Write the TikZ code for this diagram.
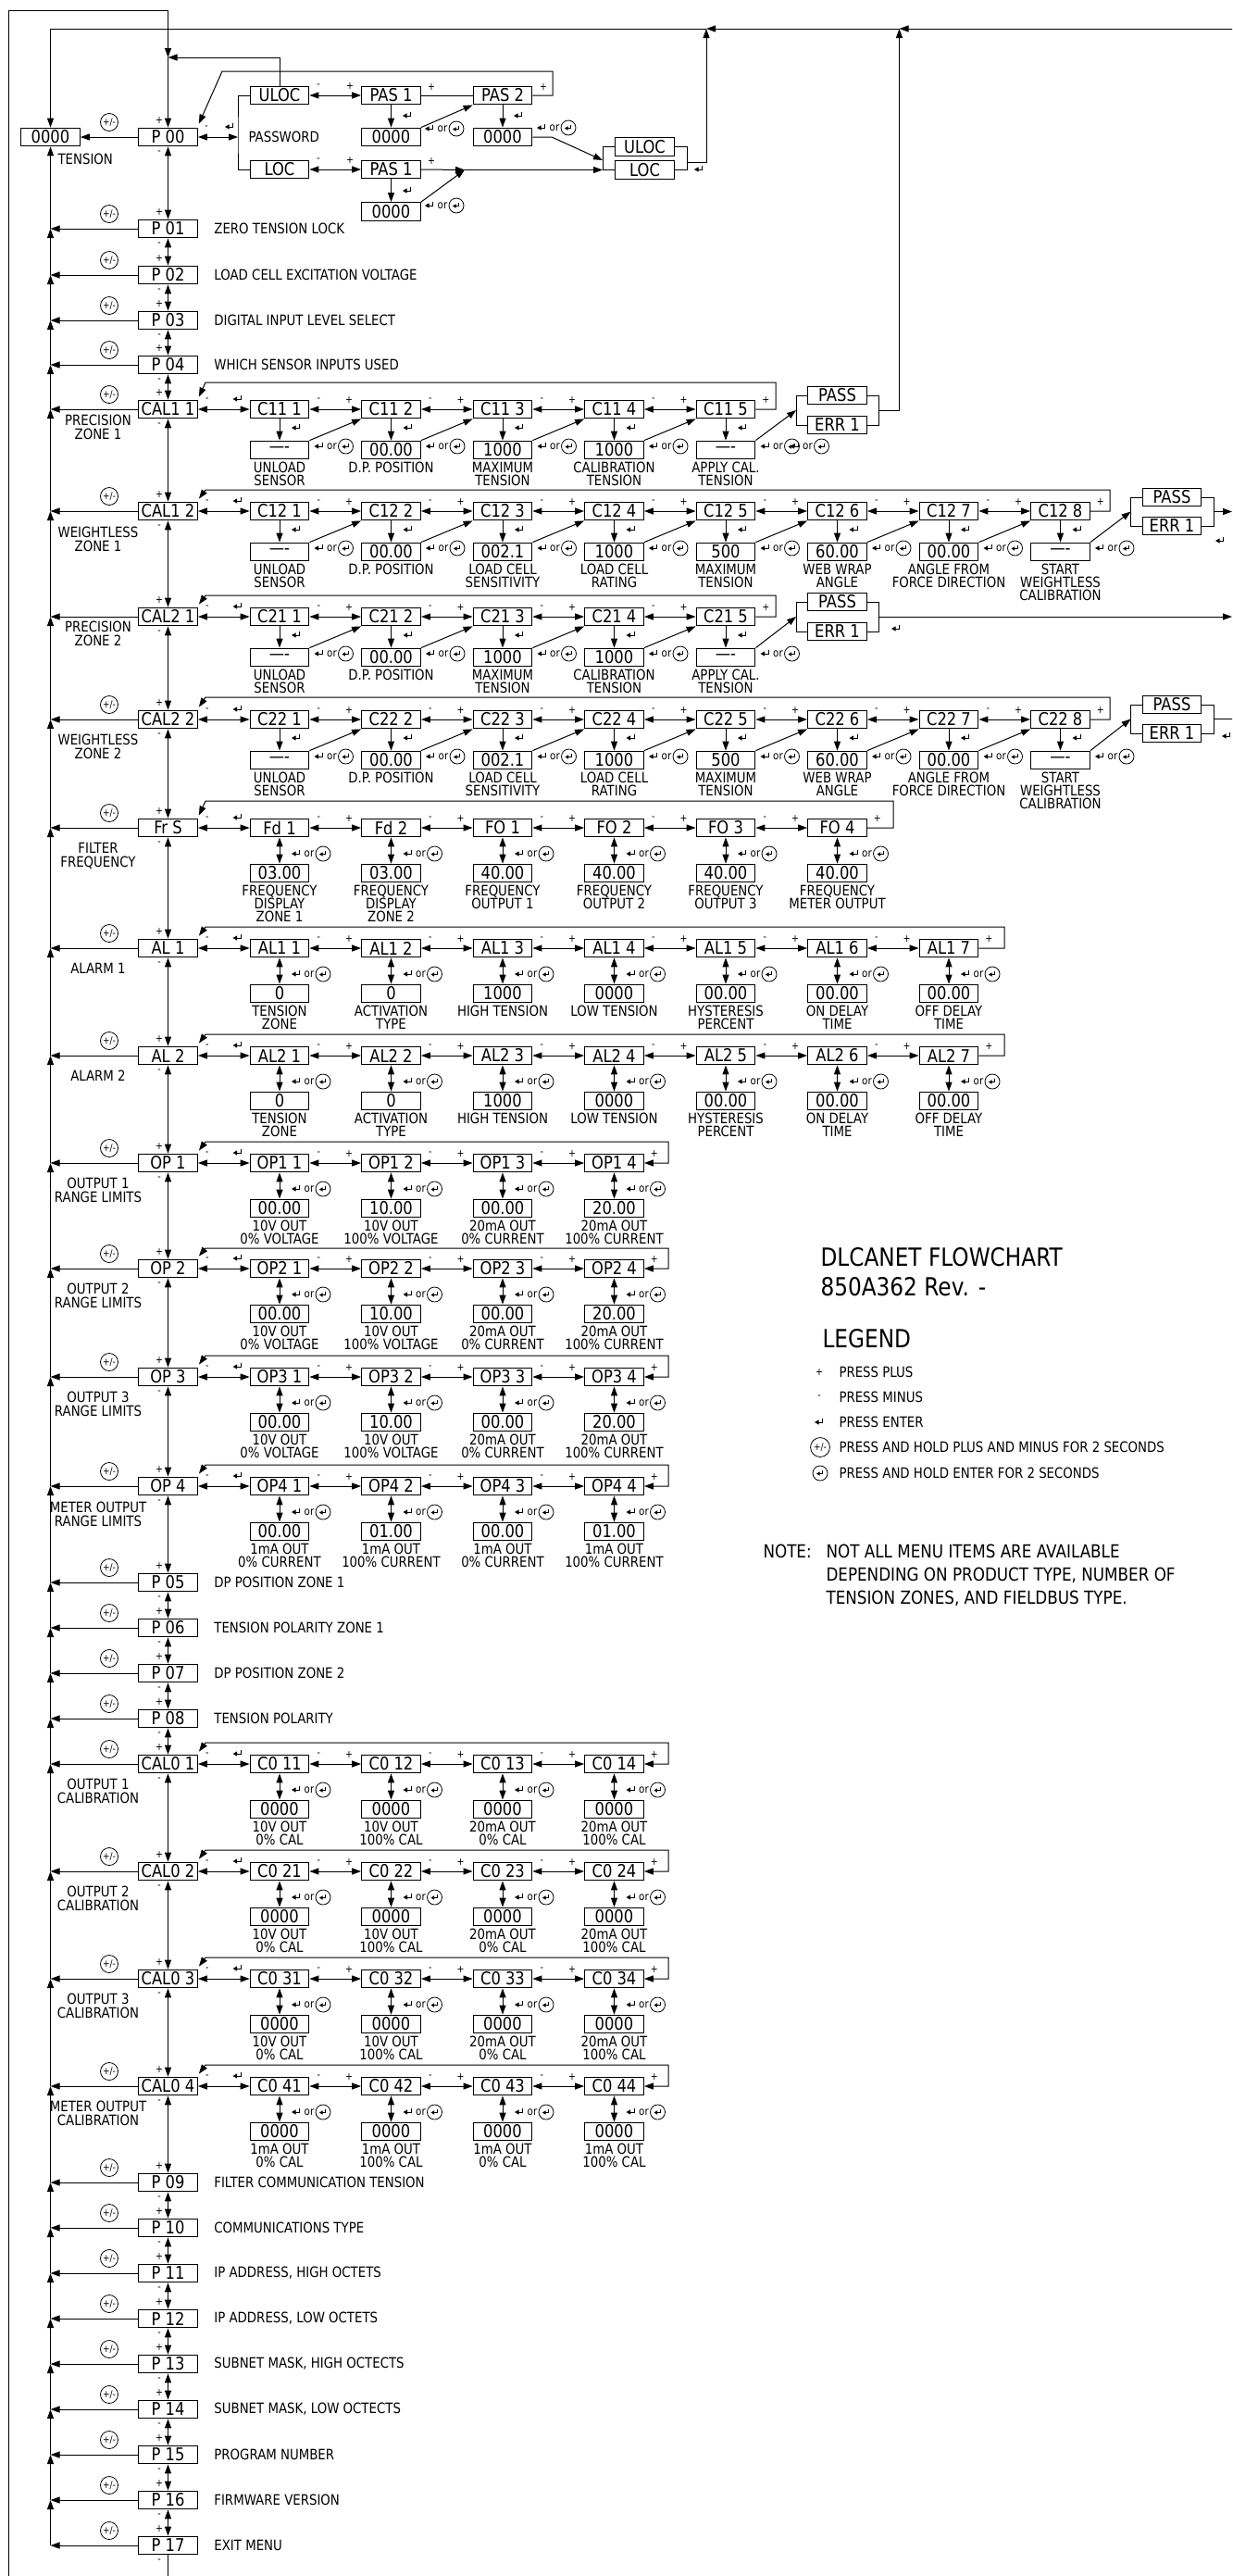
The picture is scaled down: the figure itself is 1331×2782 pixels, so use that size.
\documentclass[tikz,border=0pt]{standalone}
\usepackage{fontspec}
\setmainfont{DejaVu Sans}[FakeStretch=0.86]
\usetikzlibrary{arrows.meta,calc}
\tikzset{
  box/.style={draw, line width=1.3pt, fill=white, minimum width=63.5pt, minimum height=19.5pt, inner sep=0pt, font=\fontsize{19}{19}\selectfont},
  lbl/.style={inner sep=0pt, align=center, font=\fontsize{15.5}{13.8}\selectfont},
  lbltwo/.style={inner sep=0pt, align=center, font=\fontsize{15.5}{15.5}\selectfont},
  desc/.style={inner sep=0pt, anchor=west, font=\fontsize{15.5}{15.5}\selectfont},
  pmk/.style={inner sep=0pt, font=\fontsize{11}{11}\selectfont},
  ar/.style={-{Triangle[length=10pt,width=7pt]}},
  dar/.style={{Triangle[length=10pt,width=7pt]}-{Triangle[length=10pt,width=7pt]}},
  entr/.pic={\draw[line width=1pt] (3.5,-4.5) -- (3.5,0) -- (-1,0); \fill (-5,0) -- (-0.5,-2.6) -- (-0.5,2.6) -- cycle;},
  centr/.pic={\draw[line width=0.8pt] (0,0) circle (8pt); \draw[line width=0.9pt] (2.6,-3.5) -- (2.6,0.5) -- (-0.8,0.5); \fill (-4,0.5) -- (-0.5,-1.7) -- (-0.5,2.7) -- cycle;},
  pmc/.pic={\draw[line width=0.8pt] (0,0) circle (9.5pt); \node[inner sep=0pt, font=\fontsize{10.5}{10.5}\selectfont] (pmtxt) {+/-};},
}
\newcommand{\orent}[2]{%
  \pic at (#1,#2) {entr};
  \node[inner sep=0pt,font=\fontsize{12}{12}\selectfont] (ortxt) at (#1+14,#2) {or};
  \pic at (#1+29,#2) {centr};
}
% CAL style row: #1 name, #2 main index, #3 row y, #4 items
\newcommand{\calrow}[4]{%
  \foreach \ilab/\ival/\isub [count=\i] in {#4} {
    \pgfmathsetmacro{\cx}{302+120.5*(\i-1)}
    \node[box] (#1l\i) at (\cx,#3) {\ilab};
    \node[box] (#1v\i) at (\cx,#3+44) {\ival};
    \draw[ar] (#1l\i.south) -- (#1v\i.north);
    \pic at (\cx+18,#3+20) {entr};
    \node[lbl,anchor=north] (#1s\i) at (\cx,#3+56.7) {\isub};
    \orent{\cx+42.5}{#3+40}
    \ifnum\i>1
      \pgfmathtruncatemacro{\j}{\i-1}
      \draw[ar] (#1v\j.north east) -- (#1l\i.south west);
      \draw[dar] (#1l\j.east) -- (#1l\i.west);
      \node[pmk] (#1mi\i) at ($(#1l\j.east)+(10,-10)$) {-};
      \node[pmk] (#1pl\i) at ($(#1l\i.west)+(-13,-10)$) {+};
    \fi
  }
  \draw[dar] (m#2.east) -- (#1l1.west);
  \node[pmk] (#1m0) at ($(m#2.east)+(10,-10)$) {-};
  \pic at ($(#1l1.west)+(-13,-11)$) {entr};
}
% double arrow row
\newcommand{\dblrow}[4]{%
  \foreach \ilab/\ival/\isub [count=\i] in {#4} {
    \pgfmathsetmacro{\cx}{302+120.5*(\i-1)}
    \node[box] (#1l\i) at (\cx,#3) {\ilab};
    \node[box] (#1v\i) at (\cx,#3+49) {\ival};
    \draw[dar] (#1l\i.south) -- (#1v\i.north);
    \orent{\cx+18}{#3+28}
    \node[lbl,anchor=north] (#1s\i) at (\cx,#3+61.7) {\isub};
    \ifnum\i>1
      \pgfmathtruncatemacro{\j}{\i-1}
      \draw[dar] (#1l\j.east) -- (#1l\i.west);
      \node[pmk] (#1mi\i) at ($(#1l\j.east)+(10,-10)$) {-};
      \node[pmk] (#1pl\i) at ($(#1l\i.west)+(-13,-10)$) {+};
    \fi
  }
  \draw[dar] (m#2.east) -- (#1l1.west);
  \node[pmk] (#1m0) at ($(m#2.east)+(10,-10)$) {-};
  \pic at ($(#1l1.west)+(-13,-11)$) {entr};
}
% loop back: #1 name #2 last index #3 main idx #4 row y #5 top y #6 right x #7 style
\newcommand{\loopback}[7]{%
  \draw[#7] (#1l#2.east) -- (#6,#4) -- (#6,#5) -- (222,#5) -- ($(m#3.north east)+(1,-3)$);
  \node[pmk] (#1lp) at ($(#1l#2.east)+(11,-10)$) {+};
}
% pass group: #1 name #2 cx #3 ypass #4 yerr
\newcommand{\passgrp}[4]{%
  \node[box] (#1p) at (#2,#3) {PASS};
  \node[box] (#1e) at (#2,#4) {ERR 1};
  \draw (#1p.west) -- ++(-12,0) |- (#1e.west);
  \draw (#1p.east) -- ++(13,0) |- (#1e.east);
  \coordinate (#1L) at ($(#1p.west)!0.5!(#1e.west)+(-12,0)$);
  \coordinate (#1R) at ($(#1p.east)!0.5!(#1e.east)+(13,0)$);
}
\begin{document}
\begin{tikzpicture}[x=1pt,y=-1pt,line width=1pt]
\useasboundingbox (0,0) rectangle (1331,2782);
\clip (0,0) rectangle (1331,2782);

% ---------- main column ----------
\node[box] (ten) at (54.5,148) {0000};
\node[desc] (tenl) at (62,172) {TENSION};
\foreach \t/\y [count=\n from 0] in {P 00/148, P 01/247, P 02/297, P 03/346, P 04/394, CAL1 1/442, CAL1 2/552, CAL2 1/666, CAL2 2/777, Fr S/894, AL 1/1024, AL 2/1140, OP 1/1256, OP 2/1370, OP 3/1487, OP 4/1605, P 05/1709, P 06/1758, P 07/1807, P 08/1856, CAL0 1/1905, CAL0 2/2021, CAL0 3/2137, CAL0 4/2253, P 09/2357, P 10/2406, P 11/2455, P 12/2504, P 13/2553, P 14/2602, P 15/2651, P 16/2700, P 17/2749} {
  \node[box] (m\n) at (181.5,\y) {\t};
  \coordinate (b\n) at (54.5,\y);
  \ifnum\n=7 \else \pic at (118,\y-16) {pmc}; \fi
}
\draw[ar] (m0.west) -- (ten.east);
\foreach \n in {1,...,32} { \draw[ar] (m\n.west) -- (b\n); }
\draw[ar] (b1) -- (ten.south);
\foreach \n [evaluate=\n as \a using int(\n-1)] in {2,...,32} { \draw[ar] (b\n) -- (b\a); }
\foreach \n [evaluate=\n as \a using int(\n-1)] in {1,...,32} {
  \draw[dar] (m\a.south) -- (m\n.north);
  \node[pmk] (mm\a) at ($(m\a.south)+(-9.5,6)$) {-};
  \node[pmk] (mp\n) at ($(m\n.north)+(-9.5,-8)$) {+};
}
\node[pmk] (mp0) at ($(m0.north)+(-9.5,-8)$) {+};
\node[pmk] (mm32) at ($(m32.south)+(-9.5,6)$) {-};

% outer loops
\draw (m32.south) -- (181.5,2800) -- (9,2800) -- (9,11) -- (181.5,11);
\draw[ar] (181.5,11) -- (181.5,62);
\draw[ar] (181.5,62) -- (m0.north);
\draw[ar] (1345,31) -- (971.5,31);
\draw[ar] (971.5,31) -- (763,31);
\draw[ar] (763,31) -- (54.5,31) -- (ten.north);

% descriptions
\foreach \n/\t in {1/ZERO TENSION LOCK, 2/LOAD CELL EXCITATION VOLTAGE, 3/DIGITAL INPUT LEVEL SELECT, 4/WHICH SENSOR INPUTS USED, 16/DP POSITION ZONE 1, 17/TENSION POLARITY ZONE 1, 18/DP POSITION ZONE 2, 19/TENSION POLARITY, 24/FILTER COMMUNICATION TENSION, 25/COMMUNICATIONS TYPE, 26/{IP ADDRESS, HIGH OCTETS}, 27/{IP ADDRESS, LOW OCTETS}, 28/{SUBNET MASK, HIGH OCTECTS}, 29/{SUBNET MASK, LOW OCTECTS}, 30/PROGRAM NUMBER, 31/FIRMWARE VERSION, 32/EXIT MENU} {
  \node[desc] (d\n) at ($(m\n.east)+(17,0)$) {\t};
}
% left labels
\foreach \y/\t in {453/{PRECISION\\ZONE 1}, 574/{WEIGHTLESS\\ZONE 1}, 676/{PRECISION\\ZONE 2}, 798/{WEIGHTLESS\\ZONE 2}, 915/{FILTER\\FREQUENCY}, 1045/{ALARM 1}, 1161/{ALARM 2}, 1277/{OUTPUT 1\\RANGE LIMITS}, 1391/{OUTPUT 2\\RANGE LIMITS}, 1508/{OUTPUT 3\\RANGE LIMITS}, 1627/{METER OUTPUT\\RANGE LIMITS}, 1926/{OUTPUT 1\\CALIBRATION}, 2042/{OUTPUT 2\\CALIBRATION}, 2158/{OUTPUT 3\\CALIBRATION}, 2274/{METER OUTPUT\\CALIBRATION}} {
  \node[lbltwo,anchor=north] (ll\y) at (106,\y-5.7) {\t};
}

% ---------- password ----------
\node[box] (uloc) at (302,103) {ULOC};
\node[box] (pa1) at (422.5,103) {PAS 1};
\node[box] (pa2) at (543,103) {PAS 2};
\node[box] (pv1) at (422.5,148) {0000};
\node[box] (pv2) at (543,148) {0000};
\node[box] (loc) at (302,183) {LOC};
\node[box] (pb1) at (422.5,183) {PAS 1};
\node[box] (pbv) at (422.5,228.5) {0000};
\node[box] (gu) at (696.5,158.5) {ULOC};
\node[box] (gl) at (696.5,183.5) {LOC};
\coordinate (pwj) at (257,148);
\draw[dar] (m0.east) -- (pwj);
\draw (uloc.west) -| (pwj) |- (loc.west);
\node[pmk] (pwm) at (223,138) {-};
\pic at (248,137) {entr};
\node[desc] (pw) at (268,148) {PASSWORD};
\draw[dar] (uloc.east) -- (pa1.west);
\node[pmk] (u1) at (344,93) {-}; \node[pmk] (u2) at (378,93) {+};
\draw (pa1.east) -- (pa2.west);
\node[pmk] (u3) at (466,94) {+};
\node[pmk] (u4) at (587,94) {+};
\draw[ar] (pa1.south) -- (pv1.north); \pic at (440,125) {entr};
\draw[ar] (pv1.north east) -- (pa2.south west);
\orent{464}{139}
\draw[ar] (pa2.south) -- (pv2.north); \pic at (560,125) {entr};
\orent{585}{138}
\coordinate (gin1) at (651,173);
\coordinate (gin2) at (651,183.5);
\draw[ar] (pv2.east) -- (596,148) -- (gin1);
\draw[ar] (pa2.east) -- (597,103) -- (597,77) -- (240,77) -- ($(m0.north east)+(1,-4)$);
\draw[ar] (uloc.north) -- (302,62) -- (181.5,62);
\draw[dar] (loc.east) -- (pb1.west);
\node[pmk] (u5) at (344,173) {-}; \node[pmk] (u6) at (378,173) {+};
\node[pmk] (u7) at (466,174) {+};
\coordinate (pmid) at (502,183.5);
\draw[ar] (pb1.east) -- (pmid);
\draw[ar] (pmid) -- (gin2);
\draw[ar] (pb1.south) -- (pbv.north); \pic at (440,206) {entr};
\draw[ar] (pbv.north east) -- (pmid);
\orent{464}{222}
\draw (gu.west) -- (651,158.5) -- (651,183.5) -- (gl.west);
\draw (gu.east) -- (742,158.5) -- (742,183.5) -- (gl.east);
\draw[ar] (742,175) -- (763,175) -- (763,31);
\pic at (755,183) {entr};

% ---------- CAL rows ----------
\calrow{ca}{5}{442}{C11 1/----/{UNLOAD\\SENSOR}, C11 2/00.00/{D.P. POSITION}, C11 3/1000/{MAXIMUM\\TENSION}, C11 4/1000/{CALIBRATION\\TENSION}, C11 5/----/{APPLY CAL.\\TENSION}}
\loopback{ca}{5}{5}{442}{413}{838}{ar}
\passgrp{ga}{904.5}{427}{459}
\draw[ar] (cav5.north east) -- (gaL);
\orent{858.5}{482}
\draw[ar] (gaR) -- (971.5,443) -- (971.5,31);

\calrow{cb}{6}{552}{C12 1/----/{UNLOAD\\SENSOR}, C12 2/00.00/{D.P. POSITION}, C12 3/002.1/{LOAD CELL\\SENSITIVITY}, C12 4/1000/{LOAD CELL\\RATING}, C12 5/500/{MAXIMUM\\TENSION}, C12 6/60.00/{WEB WRAP\\ANGLE}, C12 7/00.00/{ANGLE FROM\\FORCE DIRECTION}, C12 8/----/{START\\WEIGHTLESS\\CALIBRATION}}
\loopback{cb}{8}{6}{552}{529}{1199}{ar}
\passgrp{gb}{1266}{537}{568}
\draw[ar] (cbv8.north east) -- (gbL);
\coordinate (gbo) at (1331,552.5);
\draw[ar] (gbR) -- (gbo);
\pic at (1318,584) {entr};

\calrow{cc}{7}{666}{C21 1/----/{UNLOAD\\SENSOR}, C21 2/00.00/{D.P. POSITION}, C21 3/1000/{MAXIMUM\\TENSION}, C21 4/1000/{CALIBRATION\\TENSION}, C21 5/----/{APPLY CAL.\\TENSION}}
\loopback{cc}{5}{7}{666}{643}{838}{ar}
\passgrp{gc}{904.5}{650}{682}
\draw[ar] (ccv5.north east) -- (gcL);
\coordinate (gco) at (1331,666);
\draw[ar] (gcR) -- (gco);
\pic at (968,679) {entr};

\calrow{cd}{8}{777}{C22 1/----/{UNLOAD\\SENSOR}, C22 2/00.00/{D.P. POSITION}, C22 3/002.1/{LOAD CELL\\SENSITIVITY}, C22 4/1000/{LOAD CELL\\RATING}, C22 5/500/{MAXIMUM\\TENSION}, C22 6/60.00/{WEB WRAP\\ANGLE}, C22 7/00.00/{ANGLE FROM\\FORCE DIRECTION}, C22 8/----/{START\\WEIGHTLESS\\CALIBRATION}}
\loopback{cd}{8}{8}{777}{753}{1199}{ar}
\passgrp{gd}{1266}{761}{792}
\draw[ar] (cdv8.north east) -- (gdL);
\coordinate (gdo) at (1345,776.5);
\draw (gdR) -- (gdo);
\pic at (1325,795) {entr};

% ---------- double rows ----------
\dblrow{fr}{9}{894}{Fd 1/03.00/{FREQUENCY\\DISPLAY\\ZONE 1}, Fd 2/03.00/{FREQUENCY\\DISPLAY\\ZONE 2}, FO 1/40.00/{FREQUENCY\\OUTPUT 1}, FO 2/40.00/{FREQUENCY\\OUTPUT 2}, FO 3/40.00/{FREQUENCY\\OUTPUT 3}, FO 4/40.00/{FREQUENCY\\METER OUTPUT}}
\loopback{fr}{6}{9}{894}{865}{965}{ar}

\dblrow{aa}{10}{1024}{AL1 1/0/{TENSION\\ZONE}, AL1 2/0/{ACTIVATION\\TYPE}, AL1 3/1000/{HIGH TENSION}, AL1 4/0000/{LOW TENSION}, AL1 5/00.00/{HYSTERESIS\\PERCENT}, AL1 6/00.00/{ON DELAY\\TIME}, AL1 7/00.00/{OFF DELAY\\TIME}}
\loopback{aa}{7}{10}{1024}{1001}{1085}{ar}
\dblrow{ab}{11}{1140}{AL2 1/0/{TENSION\\ZONE}, AL2 2/0/{ACTIVATION\\TYPE}, AL2 3/1000/{HIGH TENSION}, AL2 4/0000/{LOW TENSION}, AL2 5/00.00/{HYSTERESIS\\PERCENT}, AL2 6/00.00/{ON DELAY\\TIME}, AL2 7/00.00/{OFF DELAY\\TIME}}
\loopback{ab}{7}{11}{1140}{1117}{1085}{ar}

\dblrow{oa}{12}{1256}{OP1 1/00.00/{10V OUT\\0\% VOLTAGE}, OP1 2/10.00/{10V OUT\\100\% VOLTAGE}, OP1 3/00.00/{20mA OUT\\0\% CURRENT}, OP1 4/20.00/{20mA OUT\\100\% CURRENT}}
\loopback{oa}{4}{12}{1256}{1233}{722}{dar}
\dblrow{ob}{13}{1370}{OP2 1/00.00/{10V OUT\\0\% VOLTAGE}, OP2 2/10.00/{10V OUT\\100\% VOLTAGE}, OP2 3/00.00/{20mA OUT\\0\% CURRENT}, OP2 4/20.00/{20mA OUT\\100\% CURRENT}}
\loopback{ob}{4}{13}{1370}{1348}{722}{dar}
\dblrow{oc}{14}{1487}{OP3 1/00.00/{10V OUT\\0\% VOLTAGE}, OP3 2/10.00/{10V OUT\\100\% VOLTAGE}, OP3 3/00.00/{20mA OUT\\0\% CURRENT}, OP3 4/20.00/{20mA OUT\\100\% CURRENT}}
\loopback{oc}{4}{14}{1487}{1464}{722}{dar}
\dblrow{od}{15}{1605}{OP4 1/00.00/{1mA OUT\\0\% CURRENT}, OP4 2/01.00/{1mA OUT\\100\% CURRENT}, OP4 3/00.00/{1mA OUT\\0\% CURRENT}, OP4 4/01.00/{1mA OUT\\100\% CURRENT}}
\loopback{od}{4}{15}{1605}{1582}{722}{dar}

\dblrow{ka}{20}{1905}{C0 11/0000/{10V OUT\\0\% CAL}, C0 12/0000/{10V OUT\\100\% CAL}, C0 13/0000/{20mA OUT\\0\% CAL}, C0 14/0000/{20mA OUT\\100\% CAL}}
\loopback{ka}{4}{20}{1905}{1882}{722}{dar}
\dblrow{kb}{21}{2021}{C0 21/0000/{10V OUT\\0\% CAL}, C0 22/0000/{10V OUT\\100\% CAL}, C0 23/0000/{20mA OUT\\0\% CAL}, C0 24/0000/{20mA OUT\\100\% CAL}}
\loopback{kb}{4}{21}{2021}{1998}{722}{dar}
\dblrow{kc}{22}{2137}{C0 31/0000/{10V OUT\\0\% CAL}, C0 32/0000/{10V OUT\\100\% CAL}, C0 33/0000/{20mA OUT\\0\% CAL}, C0 34/0000/{20mA OUT\\100\% CAL}}
\loopback{kc}{4}{22}{2137}{2114}{722}{dar}
\dblrow{kd}{23}{2253}{C0 41/0000/{1mA OUT\\0\% CAL}, C0 42/0000/{1mA OUT\\100\% CAL}, C0 43/0000/{1mA OUT\\0\% CAL}, C0 44/0000/{1mA OUT\\100\% CAL}}
\loopback{kd}{4}{23}{2253}{2230}{722}{dar}

% ---------- legend ----------
\node[anchor=west, inner sep=0pt, font=\fontsize{27}{27}\selectfont] (t1) at (886,1358) {DLCANET FLOWCHART};
\node[anchor=west, inner sep=0pt, font=\fontsize{27}{27}\selectfont] (t2) at (886,1390) {850A362 Rev. -};
\node[anchor=west, inner sep=0pt, font=\fontsize{27}{27}\selectfont] (t3) at (888,1446) {LEGEND};
\node[pmk] (lg1) at (885,1482) {+};
\node[pmk] (lg2) at (885,1509) {-};
\pic at (885,1536) {entr};
\pic[scale=1.1] at (886,1563) {pmc};
\begin{scope}[shift={(886,1591)},scale=1.3]\pic {centr};\end{scope}
\node[desc] (lt1) at (906,1482) {PRESS PLUS};
\node[desc] (lt2) at (906,1509) {PRESS MINUS};
\node[desc] (lt3) at (906,1536) {PRESS ENTER};
\node[desc] (lt4) at (906,1563) {PRESS AND HOLD PLUS AND MINUS FOR 2 SECONDS};
\node[desc] (lt5) at (906,1591) {PRESS AND HOLD ENTER FOR 2 SECONDS};
\node[anchor=west, inner sep=0pt, font=\fontsize{19.5}{19.5}\selectfont] (nt0) at (824,1675) {NOTE:};
\node[anchor=north west, inner sep=0pt, align=left, font=\fontsize{19.5}{25}\selectfont] (nt1) at (892,1668) {NOT ALL MENU ITEMS ARE AVAILABLE\\DEPENDING ON PRODUCT TYPE, NUMBER OF\\TENSION ZONES, AND FIELDBUS TYPE.};
\end{tikzpicture}
\end{document}
